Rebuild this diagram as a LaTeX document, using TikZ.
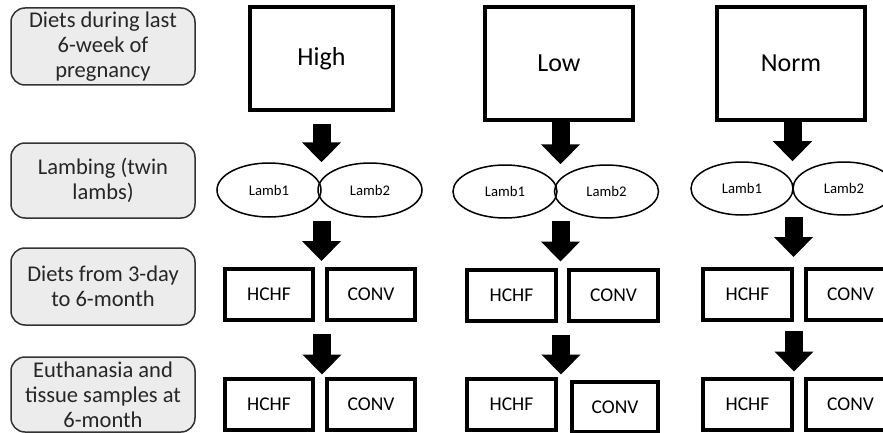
\documentclass[tikz,border=0pt]{standalone}
\usepackage{fontspec}
\setmainfont{Carlito}
\usetikzlibrary{arrows.meta,shapes.geometric}

\tikzset{
    stage/.style={draw=black!80, fill=gray!15, line width=1.5pt, rounded corners=14pt,
        minimum width=184pt, align=center, text=black!85,
        font=\fontsize{22.5}{25}\selectfont},
    diet/.style={draw, line width=4.5pt, font=\fontsize{26}{30}\selectfont},
    lamb/.style={ellipse, draw, line width=1.5pt, inner sep=0pt,
        minimum width=104pt, minimum height=54pt, font=\fontsize{14.7}{17}\selectfont},
    feed/.style={draw, line width=4pt, minimum width=88pt, minimum height=51pt,
        inner sep=0pt, font=\fontsize{19.5}{22}\selectfont},
    blockarrow/.style={line width=18pt, -{Triangle[width=38pt,length=20pt]}},
}

\begin{document}
\begin{tikzpicture}[x=1pt,y=-1pt]

    \useasboundingbox (0,0) rectangle (883,433);
    \clip (0,0) rectangle (883,433);

    % popisky vlevo
    \node[stage, minimum height=77pt] (lab1) at (103,46.5) {Diets during last\\6-week of\\pregnancy};
    \node[stage, minimum height=75pt] (lab2) at (103,180.5) {Lambing (twin\\lambs)};
    \node[stage, minimum height=77pt] (lab3) at (103,286.5) {Diets from 3-day\\to 6-month};
    \node[stage, minimum height=75pt] (lab4) at (103,394.5) {Euthanasia and\\tissue samples at\\6-month};

    % diety v březosti
    \node[diet, minimum width=143pt, minimum height=103pt] (high) at (321.5,58.5) {High};
    \node[diet, minimum width=148pt, minimum height=113pt] (low) at (559,63.5) {Low};
    \node[diet, minimum width=148pt, minimum height=113pt] (norm) at (791,63.5) {Norm};

    % jehňata
    \node[lamb] (hl1) at (269,190) {Lamb1};
    \node[lamb] (hl2) at (370,190) {Lamb2};
    \node[lamb, minimum height=53pt] (ll1) at (505,191.5) {Lamb1};
    \node[lamb, minimum height=53pt] (ll2) at (606.5,191.5) {Lamb2};
    \node[lamb, minimum width=102pt, minimum height=53pt] (nl1) at (742,188.5) {Lamb1};
    \node[lamb, minimum width=102pt, minimum height=53pt] (nl2) at (844,188.5) {Lamb2};

    % krmení 3 dny - 6 měsíců
    \node[feed] (hh1) at (269,294.5) {HCHF};
    \node[feed] (hc1) at (371,294.5) {CONV};
    \node[feed, minimum width=89pt] (lh1) at (511.5,295) {HCHF};
    \node[feed, minimum width=89pt] (lc1) at (613.5,295) {CONV};
    \node[feed, minimum width=89pt] (nh1) at (747.5,294.5) {HCHF};
    \node[feed, minimum width=89pt] (nc1) at (850.5,294.5) {CONV};

    % odběr vzorků v 6 měsících
    \node[feed] (hh2) at (269,404) {HCHF};
    \node[feed] (hc2) at (371,404) {CONV};
    \node[feed, minimum width=89pt] (lh2) at (511.5,404) {HCHF};
    \node[feed, minimum width=86pt, minimum height=50pt] (lc2) at (615,407) {CONV};
    \node[feed, minimum width=89pt] (nh2) at (747.5,404) {HCHF};
    \node[feed, minimum width=89pt] (nc2) at (850.5,404) {CONV};

    % šipky
    \draw[blockarrow, shorten <=12pt] (high.south) -- (high.south |- hl1.north);
    \draw[blockarrow] (low.south) ++(1.5,0) coordinate (lt) -- (lt |- ll1.north);
    \draw[blockarrow] (norm.south) ++(1.5,0) coordinate (nt) -- (nt |- nl1.north);

    \draw[blockarrow, shorten <=3pt, shorten >=6pt] (high.south |- hl1.south) -- (high.south |- hh1.north);
    \draw[blockarrow, shorten <=2pt, shorten >=6pt] (low.south |- ll1.south) ++(1.5,0) coordinate (lm) -- (lm |- lh1.north);
    \draw[blockarrow, shorten <=1pt, shorten >=10pt] (norm.south |- nl1.south) ++(2.5,0) coordinate (nm) -- (nm |- nh1.north);

    \draw[blockarrow, shorten <=12pt, shorten >=2pt] (high.south |- hh1.south) ++(0.5,0) coordinate (hb) -- (hb |- hh2.north);
    \draw[blockarrow, shorten <=12pt, shorten >=2pt] (low.south |- lh1.south) ++(2,0) coordinate (lb) -- (lb |- lh2.north);
    \draw[blockarrow, shorten <=9pt, shorten >=5pt] (norm.south |- nh1.south) ++(3,0) coordinate (nb) -- (nb |- nh2.north);

\end{tikzpicture}
\end{document}
